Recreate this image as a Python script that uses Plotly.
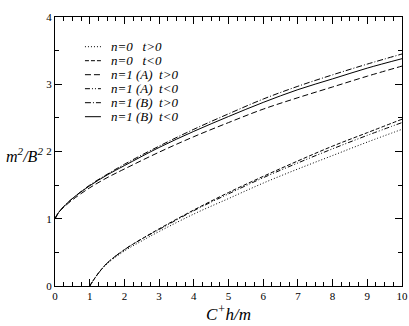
import plotly.graph_objects as go

# n=0 curves (start at C+h/m = 1)
x0 = [1, 1.1, 1.25, 1.5, 2, 2.5, 3, 4, 5, 6, 7, 8, 9, 10]
n0_tpos = [0, 0.08, 0.19, 0.33, 0.52, 0.67, 0.81, 1.07, 1.30, 1.53, 1.74, 1.94, 2.14, 2.33]
n0_tneg = [0, 0.08, 0.19, 0.34, 0.54, 0.70, 0.85, 1.13, 1.39, 1.63, 1.86, 2.08, 2.28, 2.48]
n1A_tneg = [0, 0.08, 0.19, 0.34, 0.54, 0.70, 0.84, 1.12, 1.37, 1.61, 1.83, 2.04, 2.24, 2.43]

# n=1 curves (start at 0)
x1 = [0, 0.1, 0.25, 0.5, 1, 1.5, 2, 3, 4, 5, 6, 7, 8, 9, 10]
n1A_tpos = [1.0, 1.09, 1.17, 1.28, 1.46, 1.61, 1.74, 1.99, 2.22, 2.43, 2.63, 2.80, 2.96, 3.12, 3.27]
n1B_tpos = [1.0, 1.09, 1.18, 1.30, 1.50, 1.66, 1.81, 2.08, 2.33, 2.56, 2.78, 2.97, 3.14, 3.30, 3.45]
n1B_tneg = [1.0, 1.09, 1.18, 1.30, 1.49, 1.65, 1.79, 2.06, 2.30, 2.52, 2.73, 2.92, 3.08, 3.24, 3.38]

serif = "Liberation Serif"

series = [
    ("n=0&#160;&#160;&#160;t>0", x0, n0_tpos, "1px,2px"),
    ("n=0&#160;&#160;&#160;t<0", x0, n0_tneg, "4px,2px"),
    ("n=1 (A)&#160;&#160;t>0", x1, n1A_tpos, "6px,3px"),
    ("n=1 (A)&#160;&#160;t<0", x0, n1A_tneg, "5px,2px,1px,2px,1px,2px"),
    ("n=1 (B)&#160;&#160;t>0", x1, n1B_tpos, "6px,2px,1px,2px"),
    ("n=1 (B)&#160;&#160;t<0", x1, n1B_tneg, "solid"),
]

W, H = 409, 326
L, T = 55, 17
R = W - 402.5
B = H - 286
pw, ph = W - L - R, H - T - B

fig = go.Figure()
for i, (name, xs, ys, dash) in enumerate(series):
    fig.add_trace(go.Scatter(
        x=xs, y=ys, mode="lines", name=name, showlegend=False,
        line=dict(color="black", width=1, dash=dash, shape="spline"),
    ))
    # hand-drawn legend row
    ypix = 46.7 + 14 * i
    yp = 1 - (ypix - T) / ph
    fig.add_shape(type="line", xref="paper", yref="paper",
                  x0=(85 - L) / pw, x1=(101 - L) / pw, y0=yp, y1=yp,
                  line=dict(color="black", width=1, dash=dash))
    fig.add_annotation(text="<i>" + name + "</i>", xref="paper", yref="paper",
                       x=(109 - L) / pw, y=yp, xanchor="left", yanchor="middle",
                       showarrow=False, font=dict(family=serif, size=13, color="black"))

axis = dict(
    showline=True, linecolor="black", linewidth=1, mirror="allticks",
    ticks="inside", ticklen=7, tickcolor="black", showgrid=False, zeroline=False,
    tickfont=dict(family=serif, size=11, color="black"),
)
fig.update_xaxes(range=[0, 10], dtick=1, tick0=0,
                 minor=dict(dtick=0.25, ticklen=4, ticks="inside", tickcolor="black"),
                 title=dict(text="<i>C<sup>+</sup>h/m</i>", font=dict(family=serif, size=17, color="black"), standoff=2),
                 **axis)
fig.update_yaxes(range=[0, 4], dtick=1, tick0=0,
                 minor=dict(dtick=0.5, ticklen=4, ticks="inside", tickcolor="black"),
                 **axis)

fig.add_annotation(text="<i>m<sup>2</sup>/B<sup>2</sup></i>", xref="paper", yref="y",
                   x=-0.03, y=1.95, xanchor="right", yanchor="middle", showarrow=False,
                   font=dict(family=serif, size=16, color="black"))

fig.update_layout(
    width=W, height=H,
    margin=dict(l=L, r=R, t=T, b=B, autoexpand=False),
    paper_bgcolor="white", plot_bgcolor="white",
    showlegend=False,
)

# drop the default 8px page margin so the figure fills the window
fig.write_html("out.html", config={"displayModeBar": False},
               post_script="document.body.style.margin='0px';")
